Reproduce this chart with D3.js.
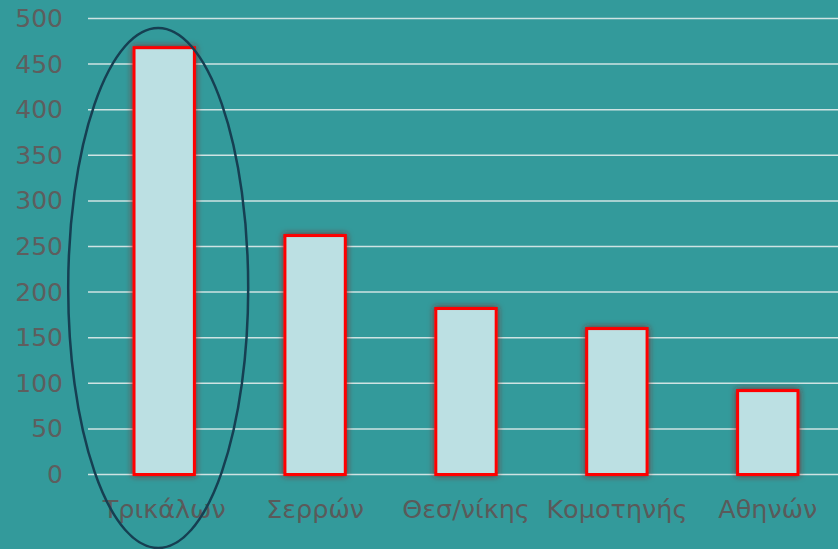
<!DOCTYPE html>
<html><head><meta charset="utf-8">
<script src="https://cdn.jsdelivr.net/npm/d3@7"></script>
<style>html,body{margin:0;padding:0;background:#339a9b;overflow:hidden}</style>
</head><body>
<svg id="c" width="838" height="549"></svg>
<script>
const categories = ["Τρικάλων","Σερρών","Θεσ/νίκης","Κομοτηνής","Αθηνών"];
const values = [468, 262, 182, 160, 92];
const yTicks = [0,50,100,150,200,250,300,350,400,450,500];

const W = 838, H = 549;
const m = {left: 88, top: 18.5, bottom: 74.5};
const svg = d3.select("#c");
svg.append("rect").attr("width",W).attr("height",H).attr("fill","#339a9b");

const defs = svg.append("defs");
const f = defs.append("filter").attr("id","glow").attr("x","-30%").attr("y","-10%").attr("width","160%").attr("height","120%");
f.append("feGaussianBlur").attr("in","SourceAlpha").attr("stdDeviation","3").attr("result","b");
f.append("feFlood").attr("flood-color","#8a2020").attr("flood-opacity","0.9").attr("result","c");
f.append("feComposite").attr("in","c").attr("in2","b").attr("operator","in").attr("result","s");
const mg = f.append("feMerge");
mg.append("feMergeNode").attr("in","s");
mg.append("feMergeNode").attr("in","SourceGraphic");

const x = d3.scaleBand().domain(categories).range([m.left, 844]).paddingInner(0.6).paddingOuter(0.305);
const y = d3.scaleLinear().domain([0,500]).range([H - m.bottom, m.top]);

// gridlines
svg.append("g").selectAll("line").data(yTicks).join("line")
  .attr("x1", m.left).attr("x2", W).attr("y1", d=>y(d)).attr("y2", d=>y(d))
  .attr("stroke","#cfe3e3").attr("stroke-width",1.5);

// y axis labels
const yAxis = d3.axisLeft(y).tickValues(yTicks).tickSize(0).tickPadding(0);
const ga = svg.append("g").attr("transform",`translate(63,0)`).call(yAxis);
ga.select(".domain").remove();
ga.selectAll("text").attr("font-family","DejaVu Sans, Verdana, sans-serif").attr("font-size",25).attr("fill","#5e5e5e");

// bars
svg.append("g").selectAll("rect").data(values).join("rect")
  .attr("x",(d,i)=>x(categories[i])).attr("width",x.bandwidth())
  .attr("y",d=>y(d)).attr("height",d=>y(0)-y(d))
  .attr("fill","#bce0e3").attr("stroke","#ff0000").attr("stroke-width",3)
  .attr("filter","url(#glow)");

// x labels
const xAxis = d3.axisBottom(x).tickSize(0).tickPadding(0);
const gx = svg.append("g").attr("transform",`translate(0,${y(0)+43})`).call(xAxis);
gx.select(".domain").remove();
gx.selectAll("text").attr("dy","0").attr("font-family","DejaVu Sans, Verdana, sans-serif").attr("font-size",25.5).attr("fill","#5a5a5a");

// ellipse highlight around first bar
svg.append("ellipse")
  .attr("cx", x(categories[0]) + x.bandwidth()/2 - 6).attr("cy", 288)
  .attr("rx", 90).attr("ry", 260)
  .attr("fill","none").attr("stroke","#163f52").attr("stroke-width",2.5);
</script>
</body></html>
